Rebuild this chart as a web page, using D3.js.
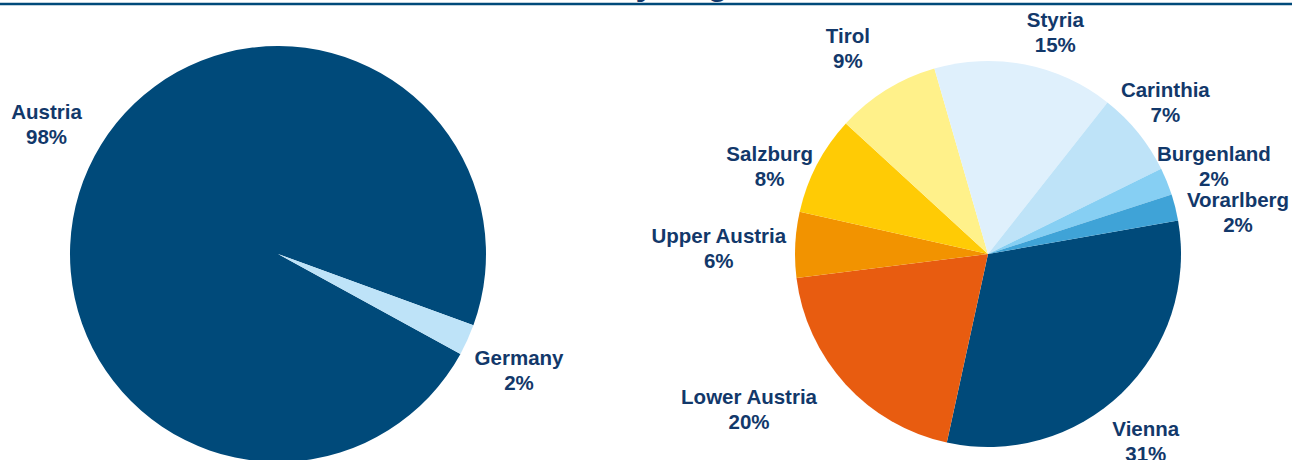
<!DOCTYPE html>
<html lang="en">
  <head>
    <meta charset="UTF-8" />
    <title>Breakdown by origin</title>
    <script src="https://d3js.org/d3.v7.min.js"></script>
    <style>
      body {
        margin: 0;
        padding: 0;
        background: #fff;
        overflow: hidden;
      }
      text {
        font-family: "Liberation Sans", Arial, sans-serif;
        font-weight: bold;
        fill: #12386a;
      }
    </style>
  </head>
  <body>
    <svg id="chart" width="1292" height="460"></svg>
    <script>
      // country split (left pie)
      var countries = ["Austria", "Germany"];
      var countryShares = [97.6, 2.4];

      // regional split inside Austria (right pie), clockwise from Vienna
      var regions = [
        "Vienna",
        "Lower Austria",
        "Upper Austria",
        "Salzburg",
        "Tirol",
        "Styria",
        "Carinthia",
        "Burgenland",
        "Vorarlberg",
      ];
      var regionShares = [31.2, 19.6, 5.5, 8.3, 8.7, 15.1, 7.1, 2.3, 2.2];

      var countryColors = ["#004a7a", "#bee3f8"];
      var regionColors = [
        "#004a7a",
        "#e85c10",
        "#f29300",
        "#ffcb05",
        "#fff18a",
        "#dff0fc",
        "#bee3f8",
        "#86cff3",
        "#3fa3d7",
      ];

      // small hand nudges so labels sit where the original "best fit" put them
      var labelNudge = {
        Austria: [4, -24],
        Germany: [-2, 5],
        Tirol: [-17, -8],
        Styria: [23, 4],
        Carinthia: [-18, 5],
        Burgenland: [-18, 10],
        Vorarlberg: [1, 19],
        Salzburg: [4, 27],
        "Upper Austria": [0, 6],
        "Lower Austria": [-41, -27],
        Vienna: [-10, 11],
      };

      var svg = d3.select("#chart");

      // title, mostly cut off by the top of the frame
      svg
        .append("text")
        .attr("x", 422)
        .attr("y", -5)
        .style("font-size", "34px")
        .text("Breakdown by origin");

      svg
        .append("line")
        .attr("x1", 0)
        .attr("x2", 1292)
        .attr("y1", 4)
        .attr("y2", 4)
        .attr("stroke", "#004a7a")
        .attr("stroke-width", 2.5);

      function drawPie(names, values, colors, cx, cy, r, startDeg) {
        var start = (startDeg * Math.PI) / 180;
        var pie = d3
          .pie()
          .sort(null)
          .startAngle(start)
          .endAngle(start + 2 * Math.PI);
        var arcs = pie(values);
        var arc = d3.arc().innerRadius(0).outerRadius(r);
        var color = d3.scaleOrdinal().domain(names).range(colors);
        var total = d3.sum(values);

        var g = svg
          .append("g")
          .attr("transform", "translate(" + cx + "," + cy + ")");

        g.selectAll("path")
          .data(arcs)
          .enter()
          .append("path")
          .attr("d", arc)
          .attr("fill", function (d, i) {
            return color(names[i]);
          });

        var labels = g
          .selectAll("g.label")
          .data(arcs)
          .enter()
          .append("g")
          .attr("class", "label");

        labels
          .append("text")
          .attr("text-anchor", "middle")
          .attr("y", -4)
          .style("font-size", "20.5px")
          .text(function (d, i) {
            return names[i];
          });

        labels
          .append("text")
          .attr("text-anchor", "middle")
          .attr("y", 21)
          .style("font-size", "20.5px")
          .text(function (d) {
            return Math.round((d.value / total) * 100) + "%";
          });

        // push each label box out along its slice's mid angle
        labels.attr("transform", function (d, i) {
          var w = 0;
          d3.select(this)
            .selectAll("text")
            .each(function () {
              w = Math.max(w, this.getComputedTextLength());
            });
          var a = (d.startAngle + d.endAngle) / 2;
          var ux = Math.sin(a);
          var uy = -Math.cos(a);
          var dist = r + 8 + (Math.abs(ux) * w) / 2 + Math.abs(uy) * 25;
          var n = labelNudge[names[i]] || [0, 0];
          return (
            "translate(" + (ux * dist + n[0]) + "," + (uy * dist + n[1]) + ")"
          );
        });
      }

      drawPie(countries, countryShares, countryColors, 278, 254, 208, 118.7);
      drawPie(regions, regionShares, regionColors, 988, 254, 193, 80);
    </script>
  </body>
</html>
